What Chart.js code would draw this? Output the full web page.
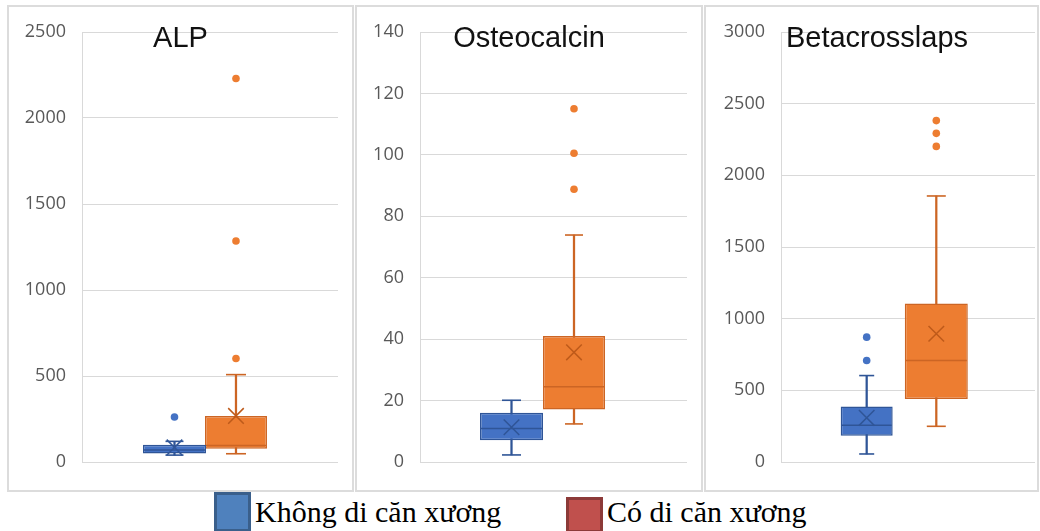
<!DOCTYPE html>
<html>
<head>
<meta charset="utf-8">
<script src="https://cdn.jsdelivr.net/npm/chart.js@4.4.1/dist/chart.umd.min.js"></script>
<style>
  html, body { margin:0; padding:0; background:#fff; width:1040px; height:531px; overflow:hidden; }
  .panel { position:absolute; top:5px; height:487px; border:2px solid #DCDCDC; box-sizing:border-box; }
  canvas { position:absolute; top:0; }
  .sq { position:absolute; box-sizing:border-box; border:3px solid; }
  .lg { position:absolute; font-family:"Liberation Serif","Times New Roman",serif; font-size:30px; line-height:32px; color:#000; white-space:nowrap; }
</style>
</head>
<body>
<div class="panel" style="left:7px;width:347px;"></div>
<div class="panel" style="left:355px;width:348px;"></div>
<div class="panel" style="left:704px;width:335px;"></div>
<canvas id="c0" width="343" height="490" style="left:9px;width:343px;height:490px;"></canvas>
<canvas id="c1" width="344" height="490" style="left:357px;width:344px;height:490px;"></canvas>
<canvas id="c2" width="330" height="490" style="left:706px;width:330px;height:490px;"></canvas>

<div class="sq" style="left:214px;top:492px;width:37px;height:40px;background:#4F81BD;border-color:#3A5F8B;"></div>
<div class="lg" style="left:255px;top:496px;">Không di căn xương</div>
<div class="sq" style="left:566px;top:497px;width:37px;height:36px;background:#C0504D;border-color:#8C3A38;"></div>
<div class="lg" style="left:607px;top:496px;">Có di căn xương</div>

<script>
// ---------- data ----------
const groups = ['Không di căn xương', 'Có di căn xương'];
const panelTitles = ['ALP', 'Osteocalcin', 'Betacrosslaps'];
const yMax = [2500, 140, 3000];
const yStep = [500, 20, 500];

// ALP
const alpMin    = [40, 48];
const alpQ1     = [50, 77];
const alpMedian = [70, 96];
const alpQ3     = [100, 268];
const alpMax    = [120, 508];
const alpMean   = [85, 268];
const alpOutliers = [[262], [602, 1285, 2230]];

// Osteocalcin
const osteoMin    = [2.3, 12.4];
const osteoQ1     = [7.1, 17.1];
const osteoMedian = [10.9, 24.5];
const osteoQ3     = [16.0, 41.0];
const osteoMax    = [20.1, 73.9];
const osteoMean   = [11.3, 35.7];
const osteoOutliers = [[], [88.8, 100.5, 115]];

// Betacrosslaps
const betaMin    = [56, 249];
const betaQ1     = [184, 440];
const betaMedian = [256, 708];
const betaQ3     = [387, 1105];
const betaMax    = [603, 1856];
const betaMean   = [308, 895];
const betaOutliers = [[708, 871], [2202, 2293, 2382]];

// ---------- styles / layout ----------
const fillColor = ['#4472C4', '#ED7D31'];
const lineColor = ['#2F5597', '#CC6524'];
const meanColor = ['#2F5597', '#BE5A1A'];

const layoutCfg = [
  { axisW: 73, padR: 14, xMin: -1.504, xMax: 2.659, boxW: [63, 62], capR: [9, 10],   titleX: 171.5 },
  { axisW: 63, padR: 14, xMin: -1.464, xMax: 2.808, boxW: [63, 62], capR: [9.5, 9],  titleX: 172 },
  { axisW: 75, padR: 1,  xMin: -1.231, xMax: 2.418, boxW: [52, 63], capR: [7.5, 9.5], titleX: 171 }
];

const stats = [
  { min: alpMin, q1: alpQ1, med: alpMedian, q3: alpQ3, max: alpMax, mean: alpMean, out: alpOutliers },
  { min: osteoMin, q1: osteoQ1, med: osteoMedian, q3: osteoQ3, max: osteoMax, mean: osteoMean, out: osteoOutliers },
  { min: betaMin, q1: betaQ1, med: betaMedian, q3: betaQ3, max: betaMax, mean: betaMean, out: betaOutliers }
];

const titlePlugin = {
  id: 'panelTitle',
  afterDraw(chart, args, opts) {
    const ctx = chart.ctx;
    ctx.save();
    ctx.font = '29px "Liberation Sans", Arial, sans-serif';
    ctx.fillStyle = '#111';
    ctx.textAlign = 'center';
    ctx.textBaseline = 'alphabetic';
    ctx.fillText(opts.text, opts.x, opts.y);
    ctx.restore();
  }
};

function buildDatasets(s, L) {
  const ds = [];
  groups.forEach((g, i) => {
    ds.push({ type: 'bar', label: g + ' whisker', data: [{ x: i, y: [s.min[i], s.max[i]] }],
      backgroundColor: lineColor[i], borderWidth: 0, grouped: false,
      barPercentage: 1, categoryPercentage: 1, maxBarThickness: 1.6, order: 3 });
    ds.push({ type: 'bar', label: g, data: [{ x: i, y: [s.q1[i], s.q3[i]] }],
      backgroundColor: fillColor[i], borderColor: lineColor[i], borderWidth: 1.5, borderSkipped: false,
      grouped: false, barPercentage: 1.3, categoryPercentage: 1, maxBarThickness: L.boxW[i], order: 2 });
    ds.push({ type: 'scatter', data: [{ x: i, y: s.min[i] }, { x: i, y: s.max[i] }],
      pointStyle: 'line', pointRadius: L.capR[i], pointBorderColor: lineColor[i], pointBorderWidth: 1.6, order: 1 });
    ds.push({ type: 'scatter', data: [{ x: i, y: s.med[i] }],
      pointStyle: 'line', pointRadius: L.boxW[i] / 2 - 1, pointBorderColor: lineColor[i], pointBorderWidth: 1.5, order: 1 });
    ds.push({ type: 'scatter', data: [{ x: i, y: s.mean[i] }],
      pointStyle: 'crossRot', pointRadius: 11, pointBorderColor: meanColor[i], pointBorderWidth: 1.5, order: 1 });
    ds.push({ type: 'scatter', data: s.out[i].map(v => ({ x: i, y: v })),
      pointStyle: 'circle', pointRadius: 3.8, pointBackgroundColor: fillColor[i], pointBorderColor: fillColor[i], pointBorderWidth: 0, order: 1 });
  });
  return ds;
}

panelTitles.forEach((title, p) => {
  const L = layoutCfg[p];
  new Chart(document.getElementById('c' + p), {
    type: 'bar',
    data: { datasets: buildDatasets(stats[p], L) },
    plugins: [titlePlugin],
    options: {
      responsive: false,
      animation: false,
      events: [],
      layout: { autoPadding: false, padding: { top: 32, bottom: 28, left: 0, right: L.padR } },
      plugins: {
        legend: { display: false },
        tooltip: { enabled: false },
        panelTitle: { text: title, x: L.titleX, y: 47 }
      },
      scales: {
        x: {
          type: 'linear', display: false, offset: false, min: L.xMin, max: L.xMax,
          afterBuildTicks: (s) => { s.ticks = [{ value: 0 }, { value: 1 }]; }
        },
        y: {
          min: 0, max: yMax[p],
          afterFit: (s) => { s.width = L.axisW; },
          ticks: {
            stepSize: yStep[p], padding: 16, color: '#595959',
            font: { family: "'Open Sans', 'Noto Sans', sans-serif", size: 18 },
            callback: (v) => String(v)
          },
          grid: { color: '#D9D9D9', lineWidth: 1, drawTicks: false },
          border: { display: true, color: '#D9D9D9', width: 1 }
        }
      }
    }
  });
});
</script>
</body>
</html>
